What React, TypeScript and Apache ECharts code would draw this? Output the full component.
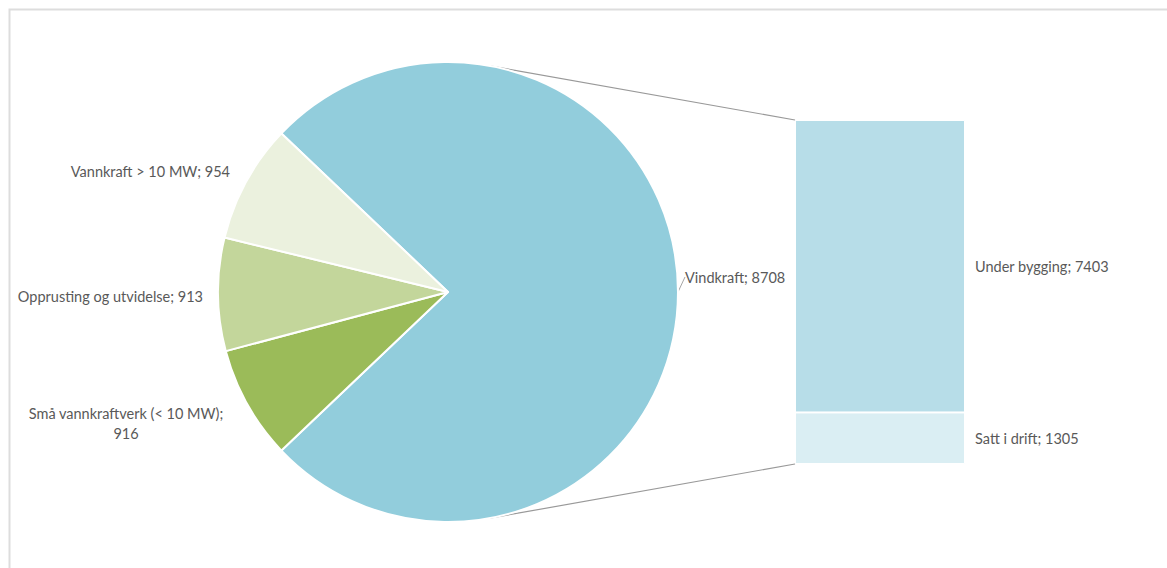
import React, { useEffect, useRef } from 'react';
import * as echarts from 'echarts';

const pieCategories = ['Vindkraft', 'Små vannkraftverk (< 10 MW)', 'Opprusting og utvidelse', 'Vannkraft > 10 MW'];
const pieValues = [8708, 916, 913, 954];
const pieColors = ['#92CDDC', '#9BBB59', '#C3D69B', '#EBF1DE'];
const wrappedPieLabels = ['Små vannkraftverk (< 10 MW)'];

const barCategories = ['Satt i drift', 'Under bygging'];
const barValues = [1305, 7403];
const barColors = ['#DAEEF3', '#B7DDE8'];

// layout (page coordinates)
const W = 1167;
const H = 568;
const CX = 448;
const CY = 292;
const R = 230;
const BAR_LEFT = 795;
const BAR_W = 170;
const BAR_TOP = 120;
const BAR_H = 344;
const TEXT_COLOR = '#595959';
const FONT = 'Lato, "Open Sans", sans-serif';
const FONT_SIZE = 14.5;

const pieLabelLayout: { x: number; y: number; align: string }[] = [
  { x: 685, y: 277, align: 'left' },
  { x: 126, y: 423, align: 'center' },
  { x: 203, y: 296, align: 'right' },
  { x: 230, y: 171, align: 'right' },
];

function tangentPoint(px: number, py: number, upper: boolean): [number, number] {
  const dx = px - CX;
  const dy = py - CY;
  const d = Math.sqrt(dx * dx + dy * dy);
  const theta = Math.atan2(dy, dx);
  const alpha = Math.acos(R / d);
  const a = upper ? theta - alpha : theta + alpha;
  return [CX + R * Math.cos(a), CY + R * Math.sin(a)];
}

export default function App() {
  const ref = useRef<HTMLDivElement>(null);

  useEffect(() => {
    if (!ref.current) return;
    const chart = echarts.init(ref.current, undefined, { renderer: 'svg' });
    const pieTotal = pieValues.reduce((a, b) => a + b, 0);
    const barTotal = barValues.reduce((a, b) => a + b, 0);
    const startAngle = ((pieValues[0] / pieTotal) * 360) / 2;

    const topT = tangentPoint(BAR_LEFT, BAR_TOP, true);
    const botT = tangentPoint(BAR_LEFT, BAR_TOP + BAR_H, false);

    const option: any = {
      animation: false,
      backgroundColor: '#ffffff',
      textStyle: { fontFamily: FONT },
      grid: { left: BAR_LEFT, top: BAR_TOP, width: BAR_W, height: BAR_H },
      xAxis: { type: 'category', data: ['Vindkraft'], show: false },
      yAxis: { type: 'value', min: 0, max: barTotal, show: false },
      graphic: [
        {
          type: 'rect',
          shape: { x: 9.5, y: 9.5, width: W + 20, height: H + 20 },
          style: { fill: 'none', stroke: '#DDDDDD', lineWidth: 2 },
          silent: true,
        },
        {
          type: 'line',
          shape: { x1: topT[0], y1: topT[1], x2: BAR_LEFT, y2: BAR_TOP },
          style: { stroke: '#999999', lineWidth: 1.2 },
          silent: true,
        },
        {
          type: 'line',
          shape: { x1: botT[0], y1: botT[1], x2: BAR_LEFT, y2: BAR_TOP + BAR_H },
          style: { stroke: '#999999', lineWidth: 1.2 },
          silent: true,
        },
      ],
      series: [
        {
          type: 'pie',
          center: [CX, CY],
          radius: R,
          startAngle,
          clockwise: true,
          avoidLabelOverlap: false,
          itemStyle: { borderColor: '#ffffff', borderWidth: 2 },
          label: {
            show: true,
            position: 'outside',
            color: TEXT_COLOR,
            fontFamily: FONT,
            fontSize: FONT_SIZE,
            lineHeight: 20,
            formatter: (p: any) =>
              wrappedPieLabels.includes(p.name) ? `${p.name};\n${p.value}` : `${p.name}; ${p.value}`,
          },
          labelLine: { show: false, length: 6, length2: 0, lineStyle: { color: '#A6A6A6', width: 1 } },
          labelLayout: (params: any) => {
            const l = pieLabelLayout[params.dataIndex];
            return { x: l.x, y: l.y, align: l.align, verticalAlign: 'middle' };
          },
          data: pieCategories.map((name, i) => ({
            name,
            value: pieValues[i],
            itemStyle: { color: pieColors[i] },
            labelLine: i === 0 ? { show: true } : undefined,
          })),
        },
        ...barCategories.map((name, i) => ({
          type: 'bar',
          name,
          stack: 'vind',
          barWidth: '100%',
          data: [barValues[i]],
          itemStyle: { color: barColors[i], borderColor: '#ffffff', borderWidth: 1 },
          label: {
            show: true,
            position: 'right',
            distance: 10,
            color: TEXT_COLOR,
            fontFamily: FONT,
            fontSize: FONT_SIZE,
            formatter: '{a}; {c}',
          },
        })),
      ],
    };
    chart.setOption(option);
    return () => chart.dispose();
  }, []);

  return (
    <div
      ref={ref}
      style={{ position: 'absolute', left: 0, top: 0, width: W, height: H }}
    />
  );
}
